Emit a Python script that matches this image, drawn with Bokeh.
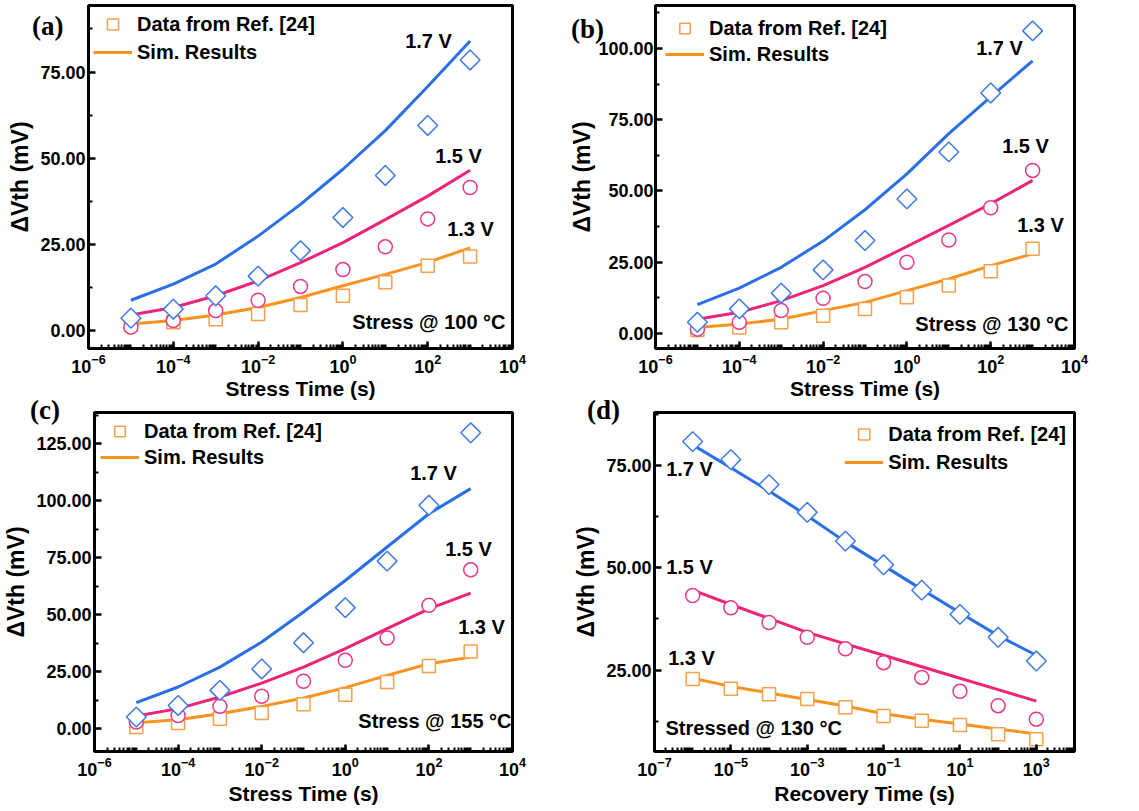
import numpy as np
from bokeh.plotting import figure
from bokeh.layouts import column, row
from bokeh.models import FixedTicker, PrintfTickFormatter, Label, Legend, LegendItem, Div
from bokeh.embed import file_html
from bokeh.resources import INLINE

# ---------------- data ----------------
t_stress = [1e-5, 1e-4, 1e-3, 1e-2, 1e-1, 1e0, 1e1, 1e2, 1e3]
t_recovery = [1e-6, 1e-5, 1e-4, 1e-3, 1e-2, 1e-1, 1e0, 1e1, 1e2, 1e3]

# (a) stress @ 100 C
a_data_17 = [3.6, 6.2, 10.1, 15.8, 23.2, 32.8, 45.0, 59.5, 78.5]
a_sim_17 = [8.8, 13.5, 19.3, 27.4, 36.6, 46.8, 58.0, 70.8, 84.0]
a_data_15 = [1.0, 2.9, 5.8, 8.8, 12.8, 17.7, 24.3, 32.4, 41.5]
a_sim_15 = [4.5, 6.7, 10.1, 14.4, 19.7, 25.5, 32.2, 39.0, 46.5]
a_data_13 = [1.6, 2.4, 3.3, 4.8, 7.4, 10.1, 14.0, 18.8, 21.5]
a_sim_13 = [1.9, 2.9, 4.5, 6.7, 9.6, 13.0, 16.3, 19.8, 24.0]

# (b) stress @ 130 C
b_data_17 = [3.9, 8.6, 14.1, 22.3, 32.6, 47.2, 63.7, 84.4, 106.2]
b_sim_17 = [10.1, 15.9, 23.2, 32.4, 43.4, 56.0, 70.1, 83.0, 95.7]
b_data_15 = [1.5, 3.9, 8.0, 12.3, 18.2, 25.0, 32.8, 44.1, 57.2]
b_sim_15 = [5.0, 7.4, 11.5, 16.8, 23.2, 30.5, 37.9, 45.5, 53.7]
b_data_13 = [1.2, 2.1, 3.9, 6.2, 8.6, 12.7, 16.8, 21.8, 29.7]
b_sim_13 = [2.1, 3.3, 5.0, 8.0, 10.9, 15.0, 19.1, 23.8, 27.9]

# (c) stress @ 155 C
c_data_17 = [5.1, 10.2, 16.8, 26.2, 37.7, 53.1, 73.5, 98.0, 129.8]
c_sim_17 = [11.4, 18.3, 27.0, 38.0, 51.2, 65.0, 79.7, 94.3, 105.3]
c_data_15 = [2.9, 5.8, 9.8, 14.2, 20.8, 30.0, 39.8, 54.1, 69.7]
c_sim_15 = [5.6, 8.8, 13.9, 20.0, 27.0, 35.1, 43.9, 52.6, 59.5]
c_data_13 = [0.7, 2.5, 4.4, 6.9, 10.7, 14.9, 20.5, 27.5, 33.9]
c_sim_13 = [2.6, 3.9, 6.6, 9.8, 13.5, 18.0, 23.4, 28.5, 31.4]

# (d) recovery, stressed @ 130 C
d_data_17 = [80.8, 76.4, 70.3, 63.5, 56.5, 50.7, 44.5, 38.6, 33.0, 27.2]
d_sim_17 = [80.0, 74.4, 68.7, 62.7, 56.3, 50.5, 44.7, 39.0, 33.4, 28.6]
d_data_15 = [43.2, 40.2, 36.6, 33.0, 30.2, 26.8, 23.2, 19.8, 16.3, 13.0]
d_sim_15 = [44.5, 41.0, 37.6, 34.2, 31.4, 28.6, 25.8, 23.0, 20.2, 17.4]
d_data_13 = [22.8, 20.4, 19.1, 17.9, 15.9, 13.8, 12.6, 11.6, 9.3, 8.1]
d_sim_13 = [23.0, 21.0, 19.4, 17.8, 16.2, 14.3, 13.0, 11.8, 10.6, 9.4]

legend_labels = ["Data from Ref. [24]", "Sim. Results"]
voltage_labels = ["1.7 V", "1.5 V", "1.3 V"]
panel_letters = ["(a)", "(b)", "(c)", "(d)"]

# ---------------- styles ----------------
BLUE = "#2b6fe6"
PINK = "#ee2479"
ORANGE = "#f7931e"
BLUE_M = "#3f7be6"
PINK_M = "#e8388a"
ORANGE_M = "#f5a04a"
SANS = "Liberation Sans"
SERIF = "Liberation Serif"


def minor_log(e0, e1):
    out = []
    for e in range(e0, e1):
        for k in range(1, 10):
            out.append(k * 10.0 ** e)
    return out


def make_panel(spec):
    p = figure(width=spec["w"], height=spec["h"], x_axis_type="log",
               x_range=spec["xr"], y_range=spec["yr"],
               output_backend="svg", toolbar_location=None, title=None,
               min_border_left=spec["bl"], min_border_right=spec["br"],
               min_border_top=spec["bt"], min_border_bottom=spec["bb"])
    p.grid.visible = False
    p.outline_line_color = "black"
    p.outline_line_width = 3
    p.background_fill_color = "white"
    p.border_fill_color = "white"

    xa = p.xaxis[0]
    xa.ticker = FixedTicker(ticks=spec["xticks"], minor_ticks=minor_log(*spec["xminor"]))
    xa.axis_label = spec["xlabel"]
    ya = p.yaxis[0]
    ya.ticker = FixedTicker(ticks=spec["yticks"],
                            minor_ticks=[v + 12.5 for v in spec["yticks"]] + [spec["yticks"][0] - 12.5])
    ya.formatter = PrintfTickFormatter(format="%.2f")
    ya.axis_label = "ΔVth (mV)"
    for ax in (xa, ya):
        ax.axis_line_width = 3
        ax.axis_line_color = "black"
        ax.major_tick_in = 7
        ax.major_tick_out = 0
        ax.minor_tick_in = 4
        ax.minor_tick_out = 0
        ax.major_tick_line_width = 2.5
        ax.minor_tick_line_width = 2
        ax.major_label_text_font = SANS
        ax.major_label_text_font_style = "bold"
        ax.major_label_text_color = "black"
        ax.axis_label_text_font = SANS
        ax.axis_label_text_font_style = "bold"
        ax.axis_label_text_color = "black"
    xa.axis_label_text_font_size = "21px"
    ya.axis_label_text_font_size = "23px"
    xa.major_label_text_font_size = "18px"
    ya.major_label_text_font_size = "18px"
    xa.major_label_standoff = 5
    xa.axis_label_standoff = spec["xlabstand"]
    ya.major_label_standoff = spec.get("ystand", 3)
    ya.axis_label_standoff = spec.get("ylabstand", 4)

    x = spec["x"]
    d17, s17, d15, s15, d13, s13 = spec["series"]
    p.line(x, s13, line_color=ORANGE, line_width=3)
    p.line(x, s15, line_color=PINK, line_width=3)
    p.line(x, s17, line_color=BLUE, line_width=3)
    p.scatter(x, d13, marker="square", size=13, line_color=ORANGE_M,
              line_width=1.5, fill_color="white")
    p.scatter(x, d15, marker="circle", size=14, line_color=PINK_M,
              line_width=1.5, fill_color="white")
    p.scatter(x, d17, marker="square", angle=np.pi / 4, size=14, line_color=BLUE_M,
              line_width=1.5, fill_color="white")

    leg_line = p.line([x[0]], [s13[0]], line_color=ORANGE, line_width=3, visible=False)
    leg_sq = p.scatter([x[0]], [d13[0]], marker="square", size=13, line_color=ORANGE_M,
                       line_width=1.5, fill_color="white", visible=False)
    legend = Legend(items=[LegendItem(label=legend_labels[0], renderers=[leg_sq]),
                           LegendItem(label=legend_labels[1], renderers=[leg_line])],
                    location=spec["legloc"], margin=spec["legmargin"], padding=0,
                    glyph_width=39, glyph_height=spec["legh"], label_height=spec["legh"],
                    spacing=0, label_standoff=5,
                    label_text_font=SANS, label_text_font_style="bold",
                    label_text_font_size="20px", label_text_color="black",
                    border_line_color=None, background_fill_alpha=0)
    p.add_layout(legend)

    for txt, (lx, ly) in zip(voltage_labels, spec["vpos"]):
        p.add_layout(Label(x=lx, y=ly, x_units="screen", y_units="screen", text=txt,
                           text_font=SANS, text_font_style="bold", text_font_size="20px",
                           text_align="center", text_baseline="middle", text_color="black"))
    tx, ty, talign = spec["tpos"]
    p.add_layout(Label(x=tx, y=ty, x_units="screen", y_units="screen", text=spec["temp"],
                       text_font=SANS, text_font_style="bold", text_font_size="20px",
                       text_align=talign, text_baseline="middle", text_color="black"))
    return p


specs = [
    dict(w=566, h=404, bl=88, br=54, bt=5, bb=54,
         xr=(1e-6, 1e4), yr=(-5.2, 94.3), x=t_stress,
         xticks=[1e-6, 1e-4, 1e-2, 1e0, 1e2, 1e4], xminor=(-6, 4),
         yticks=[0, 25, 50, 75], xlabel="Stress Time (s)", xlabstand=1,
         series=(a_data_17, a_sim_17, a_data_15, a_sim_15, a_data_13, a_sim_13),
         legloc="top_left", legmargin=5, legh=28,
         vpos=[(340, 308), (370, 193), (382, 120)], tpos=(417, 27, "right"),
         temp="Stress @ 100 °C"),
    dict(w=573, h=404, bl=87, br=65, bt=5, bb=56,
         xr=(1e-6, 1e4), yr=(-5.3, 115.1), x=t_stress,
         xticks=[1e-6, 1e-4, 1e-2, 1e0, 1e2, 1e4], xminor=(-6, 4),
         yticks=[0, 25, 50, 75, 100], xlabel="Stress Time (s)", xlabstand=1,
         series=(b_data_17, b_sim_17, b_data_15, b_sim_15, b_data_13, b_sim_13),
         legloc="top_left", legmargin=10, legh=26, ystand=2, ylabstand=0,
         vpos=[(344, 301), (370, 203), (385, 124)], tpos=(413, 25, "right"),
         temp="Stress @ 130 °C"),
    dict(w=570, h=407, bl=91, br=58, bt=8, bb=60,
         xr=(1e-6, 1e4), yr=(-10.0, 138.7), x=t_stress,
         xticks=[1e-6, 1e-4, 1e-2, 1e0, 1e2, 1e4], xminor=(-6, 4),
         yticks=[0, 25, 50, 75, 100, 125], xlabel="Stress Time (s)", xlabstand=3,
         series=(c_data_17, c_sim_17, c_data_15, c_sim_15, c_data_13, c_sim_13),
         legloc="top_left", legmargin=6, legh=26,
         vpos=[(339, 279), (374, 203), (387, 125)], tpos=(417, 31, "right"),
         temp="Stress @ 155 °C"),
    dict(w=569, h=407, bl=80, br=65, bt=3, bb=60,
         xr=(1e-7, 1e4), yr=(5.1, 87.9), x=t_recovery,
         xticks=[1e-7, 1e-5, 1e-3, 1e-1, 1e1, 1e3], xminor=(-7, 4),
         yticks=[25, 50, 75], xlabel="Recovery Time (s)", xlabstand=3,
         series=(d_data_17, d_sim_17, d_data_15, d_sim_15, d_data_13, d_sim_13),
         legloc="top_right", legmargin=8, legh=28,
         vpos=[(35, 283), (35, 185), (37, 94)], tpos=(11, 24, "left"),
         temp="Stressed @ 130 °C"),
]

panels = [make_panel(s) for s in specs]

# panel letters as absolutely positioned text (top-left corner of each text box)
letter_pos = [(27, 8), (566, 11), (25, 392), (582, 392)]
letters = []
for txt, (lx, ly) in zip(panel_letters, letter_pos):
    letters.append(Div(text=txt, styles={
        "position": "absolute", "left": f"{lx}px", "top": f"{ly}px",
        "font-family": SERIF, "font-weight": "bold", "font-size": "27px",
        "line-height": "1", "color": "black", "z-index": "10"}))

layout = column(row(panels[0], panels[1]), row(panels[2], panels[3]), *letters)

open("out.html", "w").write(file_html(layout, INLINE))
